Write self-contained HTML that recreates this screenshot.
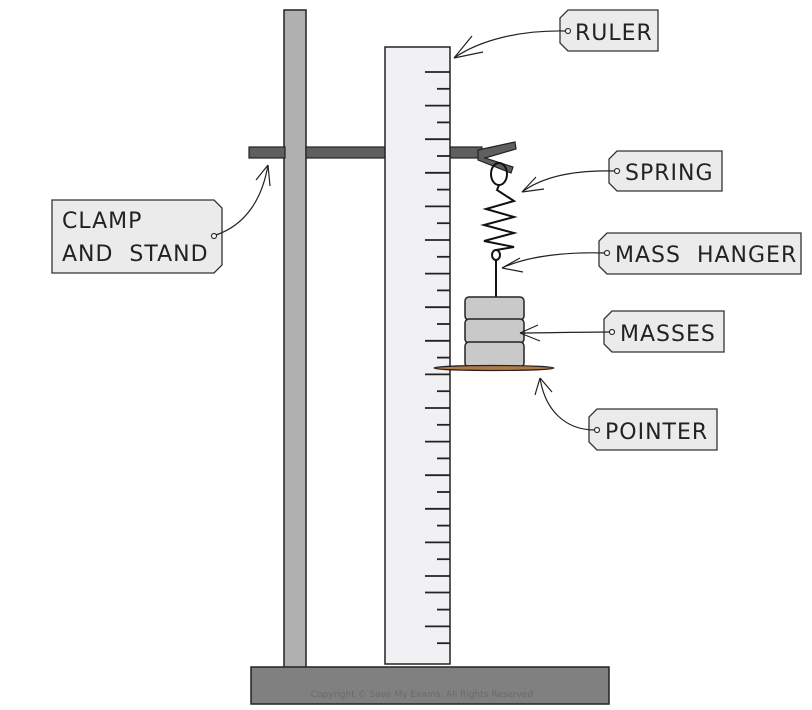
<!DOCTYPE html>
<html><head><meta charset="utf-8"><style>
html,body{margin:0;padding:0;background:#fff}
svg{display:block}
text{font-family:"DejaVu Sans","Liberation Sans",sans-serif;font-size:22px;fill:#222;letter-spacing:1px}
</style></head><body>
<svg width="812" height="710" viewBox="0 0 812 710" xmlns="http://www.w3.org/2000/svg">
<rect x="284" y="10" width="22" height="658" fill="#b0b0b0" stroke="#222" stroke-width="1.5"/>
<rect x="249" y="147" width="36" height="11" fill="#5f5f5f" stroke="#222" stroke-width="1.2"/>
<rect x="306" y="147" width="80" height="11" fill="#5f5f5f" stroke="#222" stroke-width="1.2"/>
<rect x="450" y="147" width="32" height="11" fill="#5f5f5f" stroke="#222" stroke-width="1.2"/>
<path d="M478 150 L515 142 L516 149 L485 158 L513 167 L511 173 L478 160 Z" fill="#5f5f5f" stroke="#222" stroke-width="1.2"/>
<rect x="385" y="47" width="65" height="617" fill="#f1f1f3" stroke="#222" stroke-width="1.5"/>
<g stroke="#222" stroke-width="1.8">
<line x1="425" y1="72" x2="450" y2="72"/><line x1="437" y1="88.8" x2="450" y2="88.8"/>
<line x1="425" y1="105.6" x2="450" y2="105.6"/><line x1="437" y1="122.4" x2="450" y2="122.4"/>
<line x1="425" y1="139.2" x2="450" y2="139.2"/><line x1="437" y1="156" x2="450" y2="156"/>
<line x1="425" y1="172.8" x2="450" y2="172.8"/><line x1="437" y1="189.6" x2="450" y2="189.6"/>
<line x1="425" y1="206.4" x2="450" y2="206.4"/><line x1="437" y1="223.2" x2="450" y2="223.2"/>
<line x1="425" y1="240" x2="450" y2="240"/><line x1="437" y1="256.8" x2="450" y2="256.8"/>
<line x1="425" y1="273.6" x2="450" y2="273.6"/><line x1="437" y1="290.4" x2="450" y2="290.4"/>
<line x1="425" y1="307.2" x2="450" y2="307.2"/><line x1="437" y1="324" x2="450" y2="324"/>
<line x1="425" y1="340.8" x2="450" y2="340.8"/><line x1="437" y1="357.6" x2="450" y2="357.6"/>
<line x1="425" y1="374.4" x2="450" y2="374.4"/><line x1="437" y1="391.2" x2="450" y2="391.2"/>
<line x1="425" y1="408" x2="450" y2="408"/><line x1="437" y1="424.8" x2="450" y2="424.8"/>
<line x1="425" y1="441.6" x2="450" y2="441.6"/><line x1="437" y1="458.4" x2="450" y2="458.4"/>
<line x1="425" y1="475.2" x2="450" y2="475.2"/><line x1="437" y1="492" x2="450" y2="492"/>
<line x1="425" y1="508.8" x2="450" y2="508.8"/><line x1="437" y1="525.6" x2="450" y2="525.6"/>
<line x1="425" y1="542.4" x2="450" y2="542.4"/><line x1="437" y1="559.2" x2="450" y2="559.2"/>
<line x1="425" y1="576" x2="450" y2="576"/><line x1="437" y1="580.5" x2="450" y2="580.5" stroke-width="0"/>
<line x1="425" y1="592.5" x2="450" y2="592.5"/><line x1="437" y1="609.6" x2="450" y2="609.6"/>
<line x1="425" y1="626.4" x2="450" y2="626.4"/><line x1="437" y1="643.2" x2="450" y2="643.2"/>
</g>
<rect x="251" y="667" width="358" height="37" fill="#808080" stroke="#222" stroke-width="1.5"/>
<text x="422" y="697" text-anchor="middle" style="font-size:9px;fill:#6a6a6a;letter-spacing:0">Copyright © Save My Exams. All Rights Reserved</text>
<g fill="none" stroke="#111" stroke-width="2">
<ellipse cx="499" cy="174" rx="8" ry="11"/>
<path d="M499 185 L497 190 L514 201 L486 209 L514 217 L484 225 L514 233 L484 241 L514 247 L496 250"/>
<ellipse cx="496" cy="255" rx="4" ry="5"/>
<path d="M496 260 L496 297"/>
</g>
<rect x="465" y="297" width="59" height="23" rx="4" fill="#c9c9c9" stroke="#222" stroke-width="1.5"/>
<rect x="465" y="319" width="59" height="24" rx="4" fill="#c9c9c9" stroke="#222" stroke-width="1.5"/>
<rect x="465" y="342" width="59" height="25" rx="4" fill="#c9c9c9" stroke="#222" stroke-width="1.5"/>
<ellipse cx="494" cy="368" rx="60" ry="2.5" fill="#b07a45" stroke="#222" stroke-width="1.2"/>
<g fill="#ebebeb" stroke="#333" stroke-width="1.3">
<path d="M568 10 L658 10 L658 51 L568 51 L560 43 L560 18 Z"/>
<path d="M617 151 L722 151 L722 191 L617 191 L609 183 L609 159 Z"/>
<path d="M607 233 L801 233 L801 274 L607 274 L599 266 L599 241 Z"/>
<path d="M612 311 L724 311 L724 352 L612 352 L604 344 L604 319 Z"/>
<path d="M597 409 L717 409 L717 450 L597 450 L589 442 L589 417 Z"/>
<path d="M52 200 L214 200 L222 208 L222 265 L214 273 L52 273 Z"/>
</g>
<g fill="#fff" stroke="#333" stroke-width="1.2">
<circle cx="568" cy="31" r="2.5"/><circle cx="617" cy="171" r="2.5"/><circle cx="607" cy="253" r="2.5"/>
<circle cx="612" cy="332" r="2.5"/><circle cx="597" cy="430" r="2.5"/><circle cx="214" cy="236" r="2.5"/>
</g>
<text x="575" y="40">RULER</text>
<text x="625" y="180">SPRING</text>
<text x="615" y="262" xml:space="preserve">MASS  HANGER</text>
<text x="620" y="341">MASSES</text>
<text x="605" y="439">POINTER</text>
<text x="62" y="228">CLAMP</text>
<text x="62" y="261" xml:space="preserve">AND  STAND</text>
<g fill="none" stroke="#222" stroke-width="1.2">
<path d="M566 31 C520 30 480 40 454 58"/><path d="M454 58 L472 36 M454 58 L483 52"/>
<path d="M615 171 C580 170 545 175 522 192"/><path d="M522 192 L536 177 M522 192 L544 189"/>
<path d="M605 253 C570 252 530 255 502 268"/><path d="M502 268 L520 258 M502 268 L523 272"/>
<path d="M610 332 C580 332 545 333 520 333"/><path d="M520 333 L538 325 M520 333 L540 341"/>
<path d="M595 430 C565 430 545 410 540 378"/><path d="M540 378 L535 395 M540 378 L552 392"/>
<path d="M216 235 C245 225 262 200 268 165"/><path d="M268 165 L256 180 M268 165 L270 186"/>
</g>
</svg>
</body></html>
